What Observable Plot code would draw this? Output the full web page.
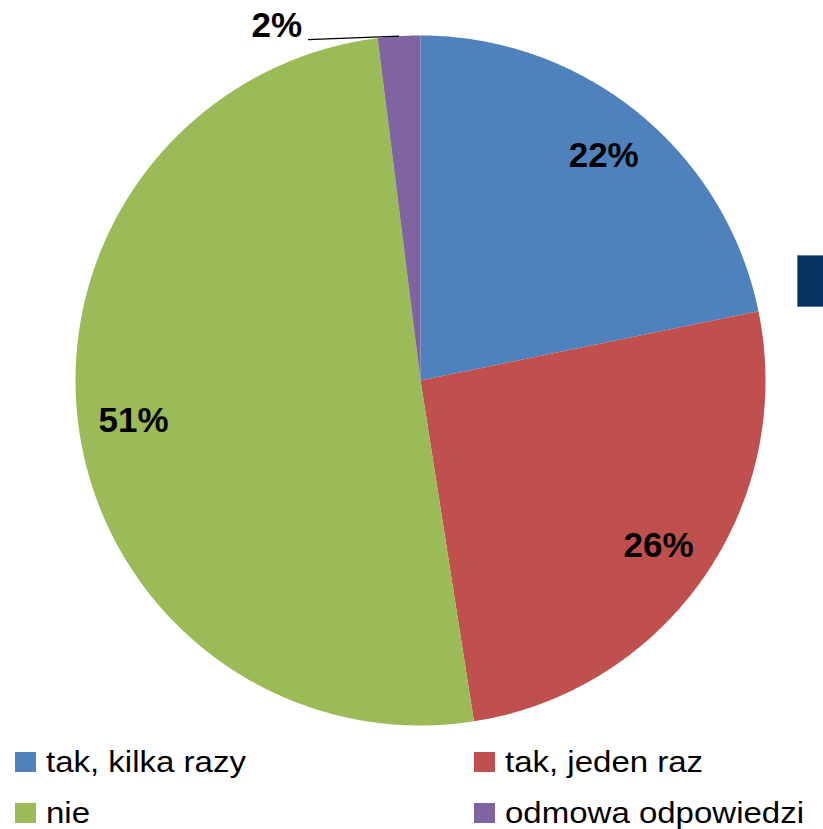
<!DOCTYPE html>
<html>
<head>
<meta charset="utf-8">
<script src="https://cdn.jsdelivr.net/npm/d3@7"></script>
<script src="https://cdn.jsdelivr.net/npm/@observablehq/plot@0.6"></script>
<style>
  html, body { margin: 0; padding: 0; background: #fff; }
  #wrap { position: relative; width: 823px; height: 829px; overflow: hidden; }
  #chart svg { display: block; }
  .deco { position: absolute; left: 797px; top: 255px; width: 26px; height: 52px; background: #04335f; box-sizing: border-box; border: 1px solid #5b7fa6; border-right: none; }
  .legend { position: absolute; left: 0; top: 740px; width: 823px; height: 89px;
    font-family: "Liberation Sans", Arial, sans-serif; font-size: 30px; color: #000; }
  .item { position: absolute; display: flex; align-items: center; white-space: nowrap; }
  .sw { width: 21px; height: 20px; margin-right: 10px; flex: none; }
  .lbl { display: inline-block; transform-origin: left center; transform: scaleX(1.1); }
</style>
</head>
<body>
<div id="wrap">
  <div id="chart"></div>
  <div class="deco"></div>
  <div class="legend" id="legend"></div>
</div>
<script>
const categories = ["tak, kilka razy", "tak, jeden raz", "nie", "odmowa odpowiedzi"];
const values = [22, 26, 51, 2];
const labels = ["22%", "26%", "51%", "2%"];
const colors = ["#4f81bd", "#c0504d", "#9bbb59", "#8064a2"];

const total = d3.sum(values);
const slices = [];
let acc = 0;
values.forEach((v, i) => {
  const a0 = acc / total * 2 * Math.PI;
  acc += v;
  const a1 = acc / total * 2 * Math.PI;
  const pts = [{x: 0, y: 0}];
  const n = Math.max(4, Math.ceil((a1 - a0) / (Math.PI / 360)));
  for (let k = 0; k <= n; k++) {
    const a = a0 + (a1 - a0) * k / n;
    pts.push({x: Math.sin(a), y: Math.cos(a)});
  }
  pts.push({x: 0, y: 0});
  const am = (a0 + a1) / 2;
  slices.push({i, key: categories[i], label: labels[i], color: colors[i], pts, a0, a1, am, frac: v / total});
});

const inside = slices.filter(s => s.frac >= 0.05);
const outside = slices.filter(s => s.frac < 0.05);
const rl = 0.84;

const marks = slices.map(s => Plot.line(s.pts, {x: "x", y: "y", fill: s.color, stroke: "none", curve: "linear"}));
marks.push(Plot.text(inside, {
  x: d => rl * Math.sin(d.am), y: d => rl * Math.cos(d.am), text: "label",
  fontFamily: "Liberation Sans, Arial, sans-serif", fontWeight: "bold", fontSize: 35, fill: "#000"
}));
const leaderLen = 91 / 345;
marks.push(Plot.link(outside, {
  x1: d => Math.sin(d.am), y1: d => Math.cos(d.am),
  x2: d => Math.sin(d.am) - leaderLen, y2: d => Math.cos(d.am) - 0.01,
  stroke: "#000", strokeWidth: 1.3
}));
marks.push(Plot.text(outside, {
  x: d => Math.sin(d.am) - leaderLen, y: d => Math.cos(d.am) - 0.01, text: "label",
  textAnchor: "end", dx: -6, dy: -14,
  fontFamily: "Liberation Sans, Arial, sans-serif", fontWeight: "bold", fontSize: 35, fill: "#000"
}));

const chart = Plot.plot({
  width: 823, height: 740, margin: 0,
  x: {domain: [-420 / 345, 403 / 345], axis: null},
  y: {domain: [-360 / 345, 380 / 345], axis: null},
  marks
});
document.getElementById("chart").appendChild(chart);

// legend
const legend = document.getElementById("legend");
const pos = [[15, 12], [474, 12], [15, 63], [474, 63]];
categories.forEach((c, i) => {
  const it = document.createElement("div");
  it.className = "item";
  it.style.left = pos[i][0] + "px";
  it.style.top = pos[i][1] + "px";
  it.style.height = "20px";
  const sw = document.createElement("span");
  sw.className = "sw";
  sw.style.background = colors[i];
  const lb = document.createElement("span");
  lb.className = "lbl";
  lb.textContent = c;
  it.appendChild(sw); it.appendChild(lb);
  legend.appendChild(it);
});
</script>
</body>
</html>
